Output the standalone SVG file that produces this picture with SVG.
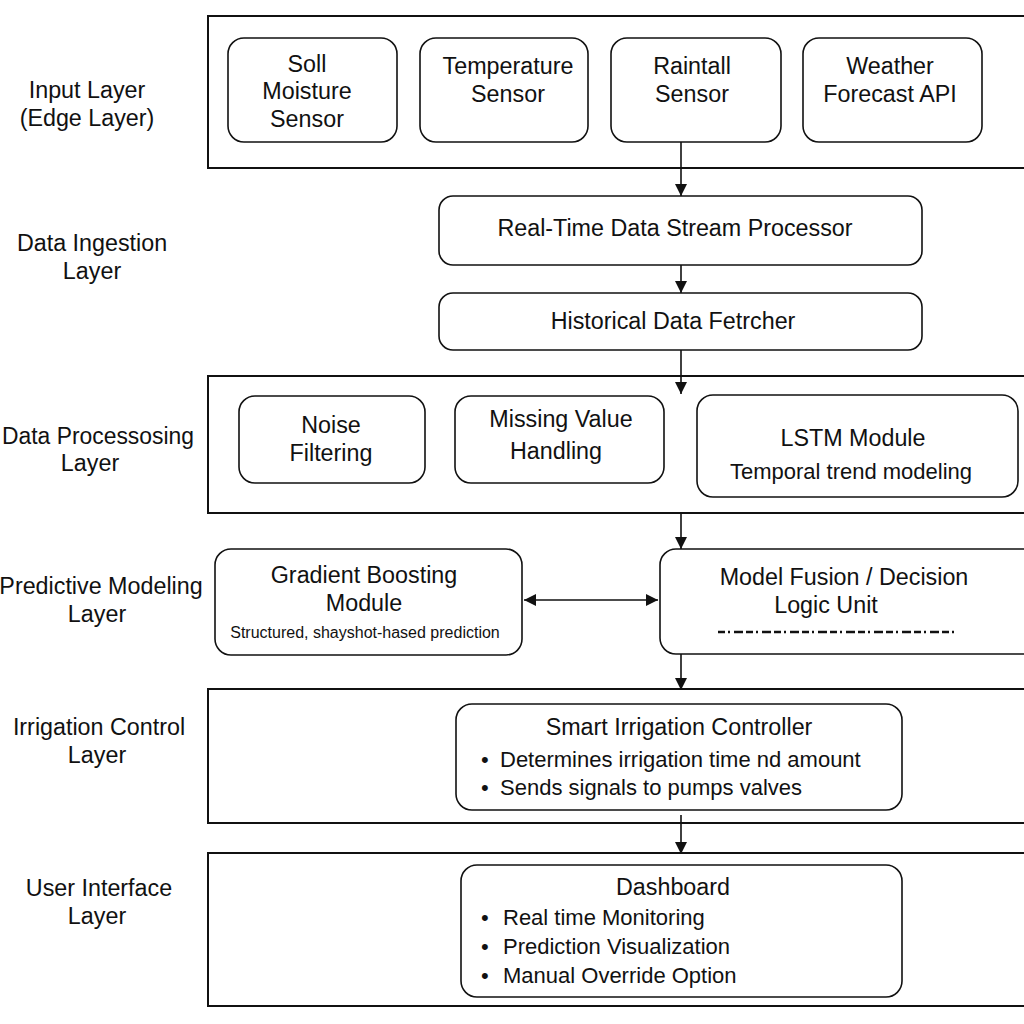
<svg xmlns="http://www.w3.org/2000/svg" width="1024" height="1024" viewBox="0 0 1024 1024">
<style>
text{font-family:"Liberation Sans",Arial,sans-serif;fill:#111;}
.t{font-size:23.3px;text-anchor:middle;}
.s{font-size:22px;text-anchor:middle;}
.b{font-size:22px;}
.sm{font-size:16px;text-anchor:middle;}
.frame{fill:none;stroke:#111;stroke-width:2;}
.box{fill:#fff;stroke:#111;stroke-width:1.6;}
.con{fill:none;stroke:#111;stroke-width:1.6;}
</style>
<defs>
<marker id="a" viewBox="0 0 12 12" refX="12" refY="6" markerWidth="12" markerHeight="12" markerUnits="userSpaceOnUse" orient="auto-start-reverse">
<path d="M0,0 L12,6 L0,12 z" fill="#111"/>
</marker>
</defs>
<rect width="1024" height="1024" fill="#fff"/>

<g id="layer-labels">
<text class="t" x="87" y="98">Input Layer</text>
<text class="t" x="87" y="126">(Edge Layer)</text>
<text class="t" x="92" y="251">Data Ingestion</text>
<text class="t" x="92" y="279">Layer</text>
<text class="t" x="98" y="444" textLength="192" lengthAdjust="spacingAndGlyphs">Data Processosing</text>
<text class="t" x="90" y="471">Layer</text>
<text class="t" x="101" y="594">Predictive Modeling</text>
<text class="t" x="97" y="622">Layer</text>
<text class="t" x="99" y="735">Irrigation Control</text>
<text class="t" x="97" y="763">Layer</text>
<text class="t" x="99" y="896">User Interface</text>
<text class="t" x="97" y="924">Layer</text>
</g>

<g id="frames">
<rect class="frame" x="208" y="16" width="830" height="152"/>
<rect class="frame" x="208" y="376" width="830" height="137"/>
<rect class="frame" x="208" y="689" width="830" height="134"/>
<rect class="frame" x="208" y="853" width="830" height="153"/>
</g>

<g id="connectors">
<path class="con" d="M681,142 V196" marker-end="url(#a)"/>
<path class="con" d="M681,265 V293" marker-end="url(#a)"/>
<path class="con" d="M681,350 V394" marker-end="url(#a)"/>
<path class="con" d="M681,513 V549" marker-end="url(#a)"/>
<path class="con" d="M524,600 H658" marker-start="url(#a)" marker-end="url(#a)"/>
<path class="con" d="M681,654 V690" marker-end="url(#a)"/>
<path class="con" d="M681,815 V854" marker-end="url(#a)"/>
</g>

<g id="soil-moisture-sensor">
<rect class="box" x="228" y="38" width="169" height="104" rx="16"/>
<text class="t" x="307" y="72">Soll</text>
<text class="t" x="307" y="99">Moisture</text>
<text class="t" x="307" y="127">Sensor</text>
</g>
<g id="temperature-sensor">
<rect class="box" x="420" y="38" width="168" height="104" rx="16"/>
<text class="t" x="508" y="74">Temperature</text>
<text class="t" x="508" y="102">Sensor</text>
</g>
<g id="rainfall-sensor">
<rect class="box" x="611" y="38" width="170" height="104" rx="16"/>
<text class="t" x="692" y="74">Raintall</text>
<text class="t" x="692" y="102">Sensor</text>
</g>
<g id="weather-api">
<rect class="box" x="803" y="38" width="179" height="104" rx="16"/>
<text class="t" x="890" y="74">Weather</text>
<text class="t" x="890" y="102">Forecast API</text>
</g>

<g id="realtime-processor">
<rect class="box" x="439" y="196" width="483" height="69" rx="14"/>
<text class="t" x="675" y="236">Real-Time Data Stream Processor</text>
</g>
<g id="historical-fetcher">
<rect class="box" x="439" y="293" width="483" height="57" rx="14"/>
<text class="t" x="673" y="329">Historical Data Fetrcher</text>
</g>

<g id="noise-filtering">
<rect class="box" x="239" y="396" width="186" height="87" rx="16"/>
<text class="t" x="331" y="433">Noise</text>
<text class="t" x="331" y="461">Filtering</text>
</g>
<g id="missing-value">
<rect class="box" x="455" y="396" width="209" height="87" rx="16"/>
<text class="t" x="561" y="427">Missing Value</text>
<text class="t" x="556" y="459">Handling</text>
</g>
<g id="lstm-module">
<rect class="box" x="697" y="395" width="321" height="102" rx="16"/>
<text class="t" x="853" y="446">LSTM Module</text>
<text class="s" x="851" y="479">Temporal trend modeling</text>
</g>

<g id="gradient-boosting">
<rect class="box" x="215" y="549" width="307" height="106" rx="16"/>
<text class="t" x="364" y="583">Gradient Boosting</text>
<text class="t" x="364" y="611">Module</text>
<text class="sm" x="365" y="638">Structured, shayshot-hased prediction</text>
</g>
<g id="model-fusion">
<rect class="box" x="660" y="549" width="380" height="105" rx="16"/>
<text class="t" x="844" y="585">Model Fusion / Decision</text>
<text class="t" x="826" y="613">Logic Unit</text>
<path d="M718,632 H957" stroke="#111" stroke-width="2.5" stroke-dasharray="7,3,2,4,9,3"/>
</g>

<g id="smart-irrigation-controller">
<rect class="box" x="456" y="704" width="446" height="106" rx="16"/>
<text class="t" x="679" y="735">Smart Irrigation Controller</text>
<text class="b" x="481" y="767">•</text>
<text class="b" x="500" y="767">Determines irrigation time nd amount</text>
<text class="b" x="481" y="795">•</text>
<text class="b" x="500" y="795">Sends signals to pumps valves</text>
</g>

<g id="dashboard">
<rect class="box" x="461" y="865" width="441" height="132" rx="16"/>
<text class="t" x="673" y="895">Dashboard</text>
<text class="b" x="481" y="925">•</text>
<text class="b" x="503" y="925">Real time Monitoring</text>
<text class="b" x="481" y="954">•</text>
<text class="b" x="503" y="954">Prediction Visualization</text>
<text class="b" x="481" y="983">•</text>
<text class="b" x="503" y="983">Manual Override Option</text>
</g>
</svg>
